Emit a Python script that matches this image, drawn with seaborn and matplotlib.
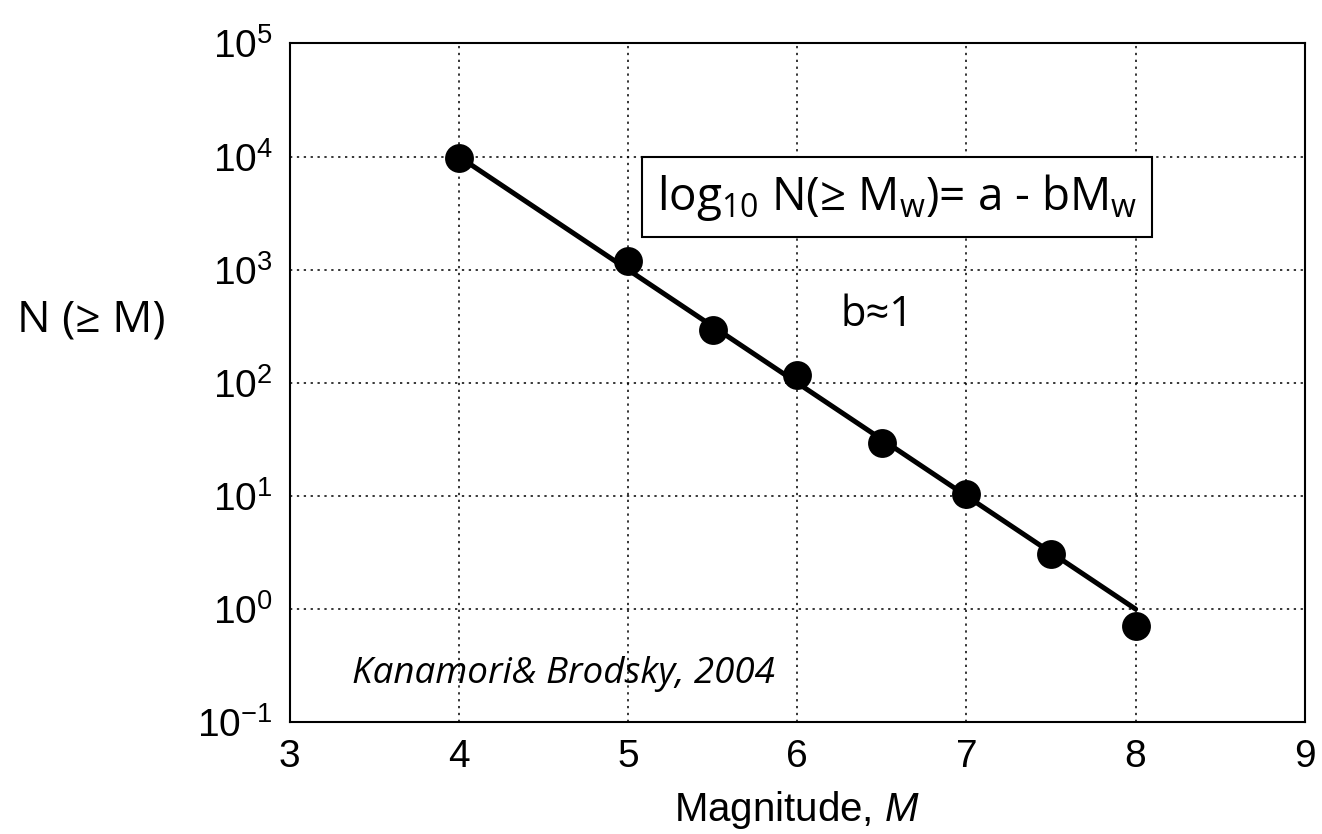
import numpy as np
import pandas as pd
import seaborn as sns
from matplotlib import pyplot as plt

# magnitude-frequency data (Kanamori & Brodsky, 2004)
magnitude = [4.0, 5.0, 5.5, 6.0, 6.5, 7.0, 7.5, 8.0]
n_cum = [9.8e3, 1.2e3, 2.95e2, 1.18e2, 2.95e1, 1.04e1, 3.1, 0.71]
# fitted line log10 N = a - bM, b ~ 1
fit_m = [4.0, 8.0]
fit_n = [1.0e4, 1.0e0]

df = pd.DataFrame({'M': magnitude, 'N': n_cum})
df_fit = pd.DataFrame({'M': fit_m, 'N': fit_n})

sns.set_style('white')
plt.rcParams['font.family'] = ['Liberation Sans', 'DejaVu Sans']
plt.rcParams['mathtext.fontset'] = 'custom'
plt.rcParams['mathtext.rm'] = 'Open Sans'
plt.rcParams['mathtext.it'] = 'Liberation Sans:italic'
plt.rcParams['axes.unicode_minus'] = False
for k in ['text.color', 'axes.labelcolor', 'xtick.color', 'ytick.color']:
    plt.rcParams[k] = 'black'

fig = plt.figure(figsize=(13.22, 8.34), dpi=100)
ax = fig.add_axes([0.219, 0.134, 0.768, 0.814])

sns.lineplot(data=df_fit, x='M', y='N', color='black', lw=3.6, ax=ax)
sns.scatterplot(data=df, x='M', y='N', color='black', s=370, edgecolor='black', zorder=5, ax=ax)

ax.set_yscale('log')
ax.set_xlim(3, 9)
ax.set_ylim(1e-1, 1e5)
ax.set_xticks([3, 4, 5, 6, 7, 8, 9])
ax.set_yticks([1e-1, 1e0, 1e1, 1e2, 1e3, 1e4, 1e5])
ax.minorticks_off()
ax.grid(True, linestyle=(0, (1.5, 3)), color='black', lw=1.1)
ax.tick_params(direction='in', length=8, width=1.2, labelsize=28, pad=12)
for s in ax.spines.values():
    s.set_color('black')
    s.set_linewidth(1.5)

ax.set_xlabel('Magnitude, $\\mathit{M}$', fontsize=29, labelpad=10)
ax.set_ylabel('')
fig.text(0.013, 0.616, 'N (≥ M)', fontsize=32, family='Open Sans', va='center', ha='left')

ax.text(6.59, 4370, 'log$_{\\mathregular{10}}$ N(≥ M$_{\\mathregular{w}}$)= a - bM$_{\\mathregular{w}}$',
        fontsize=33, family='Open Sans', ha='center', va='center',
        bbox=dict(boxstyle='square,pad=0.32', facecolor='white', edgecolor='black', lw=1.5), zorder=6)
ax.text(6.47, 400, 'b≈1', fontsize=30, family='Open Sans', ha='center', va='center')
ax.text(3.37, 0.222, 'Kanamori& Brodsky, 2004', fontsize=26.5, family='Open Sans', style='italic',
        ha='left', va='baseline')

plt.savefig('out.png', dpi=100)
